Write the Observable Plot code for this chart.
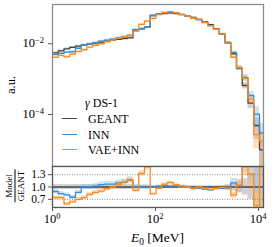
<!DOCTYPE html>
<html><head><meta charset="utf-8">
<script src="https://cdn.jsdelivr.net/npm/d3@7"></script>
<script src="https://cdn.jsdelivr.net/npm/@observablehq/plot@0.6"></script>
<style>
html,body{margin:0;padding:0;background:#fff;}
#wrap{position:relative;width:274px;height:247px;overflow:hidden;font-family:"Liberation Serif","DejaVu Serif","Times New Roman",serif;color:#000;}
#wrap svg{position:absolute;left:0;overflow:hidden;}
.lbl{position:absolute;line-height:1;white-space:nowrap;}
.lbl sup{font-size:0.68em;vertical-align:0;position:relative;top:-0.5em;}
.lbl sub{font-size:0.7em;vertical-align:0;position:relative;top:0.3em;}
.sw{position:absolute;width:15px;height:0;}
</style></head><body><div id="wrap"></div>
<script>
// ---- data ----
const binLogWidth = 0.11165;          // log10 width of each energy bin
const xTicks = [1, 100, 10000];
const xTickExp = ["0", "2", "4"];
const yTicks = [1e-2, 1e-4];
const yTickExp = ["\u22122", "\u22124"];
const ratioTicks = [0.7, 1.0, 1.3];
const seriesNames = ["GEANT", "INN", "VAE+INN"];
const geant = [5.56e-3, 6.34e-3, 7.22e-3, 7.96e-3, 8.61e-3, 9.19e-3, 9.81e-3, 1.047e-2, 1.117e-2, 1.192e-2,
  1.273e-2, 1.341e-2, 1.413e-2, 1.469e-2, 2.49e-2, 2.66e-2, 2.95e-2, 6.32e-2, 6.88e-2, 7.20e-2,
  7.34e-2, 7.20e-2, 6.65e-2, 6.11e-2, 5.55e-2, 4.93e-2, 4.19e-2, 3.47e-2, 2.66e-2, 1.918e-2,
  1.088e-2, 5.21e-3, 2.03e-3, 6.61e-4, 2.09e-4, 4.89e-5, 1.00e-5];
const inn = [4.95e-3, 5.33e-3, 5.85e-3, 5.97e-3, 7.49e-3, 9.19e-3, 9.81e-3, 1.068e-2, 1.184e-2, 1.275e-2,
  1.362e-2, 1.475e-2, 1.583e-2, 1.719e-2, 2.49e-2, 2.66e-2, 2.92e-2, 6.32e-2, 7.02e-2, 7.42e-2,
  7.49e-2, 7.34e-2, 6.78e-2, 6.11e-2, 5.33e-2, 4.78e-2, 3.98e-2, 3.23e-2, 2.55e-2, 1.86e-2,
  1.055e-2, 5.73e-3, 2.07e-3, 1.124e-3, 3.45e-4, 1.027e-4, 3.0e-5];
const vae = [4.11e-3, 4.69e-3, 4.26e-3, 5.09e-3, 6.03e-3, 6.80e-3, 8.04e-3, 9.11e-3, 1.005e-2, 1.144e-2,
  1.273e-2, 1.421e-2, 1.583e-2, 1.719e-2, 2.29e-2, 3.54e-2, 4.40e-2, 5.25e-2, 6.67e-2, 7.70e-2,
  8.15e-2, 7.63e-2, 6.65e-2, 6.11e-2, 5.38e-2, 4.93e-2, 4.06e-2, 3.26e-2, 2.58e-2, 1.90e-2,
  1.066e-2, 4.17e-3, 2.13e-3, 1.058e-3, 2.76e-4, 2.69e-5, 1.8e-5];
const relErr = [0.06, 0.06, 0.06, 0.06, 0.06, 0.06, 0.06, 0.06, 0.06, 0.06,
  0.06, 0.06, 0.06, 0.06, 0.05, 0.05, 0.05, 0.03, 0.03, 0.03,
  0.03, 0.03, 0.03, 0.03, 0.03, 0.03, 0.03, 0.03, 0.03, 0.04,
  0.06, 0.10, 0.14, 0.20, 0.30, 0.60, 0.90];

// ---- styling ----
const colors = {geant: "#444444", inn: "#3a8fd2", vae: "#ff8a1c"};
const bands = {geant: "#9a9a9a", inn: "#8cc0ea", vae: "#ffb36b"};
const W = 274;
const xDomain = [1, 10 ** 4.097];
const yMainDomain = [10 ** -5.471, 10 ** -0.888];
const yRatioDomain = [0.5, 1.5];
const clampTo = (v, dom) => Math.max(dom[0], Math.min(dom[1], v));

const edges = d3.range(geant.length + 1).map(k => Math.min(10 ** (k * binLogWidth), xDomain[1]));
const bins = geant.map((g, i) => ({
  x1: edges[i], x2: edges[i + 1], geant: g, inn: inn[i], vae: vae[i], err: relErr[i],
  rGeant: 1, rInn: inn[i] / g, rVae: vae[i] / g
}));
function stepPts(key, dom) {
  const pts = bins.map(b => ({x: b.x1, y: clampTo(b[key], dom)}));
  pts.push({x: edges[edges.length - 1], y: clampTo(bins[bins.length - 1][key], dom)});
  return pts;
}
const lineOpts = c => ({x: "x", y: "y", curve: "step-after", stroke: c, strokeWidth: 1.3, clip: true});
const bandMain = key => Plot.rect(bins, {x1: "x1", x2: "x2",
  y1: d => clampTo(d[key] * (1 - d.err), yMainDomain), y2: d => clampTo(d[key] * (1 + d.err), yMainDomain),
  fill: bands[key], fillOpacity: 0.45, clip: true});
const bandRatio = (rkey, ckey) => Plot.rect(bins, {x1: "x1", x2: "x2",
  y1: d => clampTo(d[rkey] * (1 - d.err), yRatioDomain), y2: d => clampTo(d[rkey] * (1 + d.err), yRatioDomain),
  fill: bands[ckey], fillOpacity: 0.45, clip: true});
const font = {fontFamily: "'Liberation Serif','DejaVu Serif',serif", fontSize: "11.5px", color: "#000", background: "transparent", overflow: "hidden"};

const main = Plot.plot({
  width: W, height: 167, marginLeft: 52, marginRight: 11, marginTop: 4, marginBottom: 1,
  style: font,
  x: {type: "log", domain: xDomain, axis: null},
  y: {type: "log", domain: yMainDomain},
  marks: [
    bandMain("geant"), bandMain("inn"), bandMain("vae"),
    Plot.line(stepPts("geant", yMainDomain), lineOpts(colors.geant)),
    Plot.line(stepPts("inn", yMainDomain), lineOpts(colors.inn)),
    Plot.line(stepPts("vae", yMainDomain), lineOpts(colors.vae)),
    Plot.axisY({ticks: yTicks, tickSize: 4, tickFormat: () => "", stroke: "#555", label: null}),
    Plot.frame({stroke: "#8c8c8c", strokeWidth: 1.3})
  ]
});
main.style.top = "0px";

const ratio = Plot.plot({
  width: W, height: 82, marginLeft: 52, marginRight: 11, marginTop: 1, marginBottom: 40,
  style: font,
  x: {type: "log", domain: xDomain},
  y: {domain: yRatioDomain},
  marks: [
    bandRatio("rGeant", "geant"), bandRatio("rInn", "inn"), bandRatio("rVae", "vae"),
    Plot.ruleY([ratioTicks[0], ratioTicks[2]], {stroke: "#666", strokeWidth: 0.8, strokeDasharray: "1,1.5"}),
    Plot.ruleY([ratioTicks[1]], {stroke: colors.geant, strokeWidth: 1.4}),
    Plot.line(stepPts("rInn", yRatioDomain), lineOpts(colors.inn)),
    Plot.line(stepPts("rVae", yRatioDomain), lineOpts(colors.vae)),
    Plot.axisX({ticks: xTicks, tickSize: 4, tickFormat: () => "", stroke: "#555", label: null}),
    Plot.axisY({ticks: ratioTicks, tickSize: 4, tickPadding: 3, tickFormat: d3.format(".1f"), stroke: "#555", label: null}),
    Plot.frame({stroke: "#555", strokeWidth: 1.3})
  ]
});
ratio.style.top = "165px";

const wrap = document.getElementById("wrap");
wrap.appendChild(main);
wrap.appendChild(ratio);

function addLbl(html, css) {
  const d = document.createElement("div");
  d.className = "lbl";
  d.innerHTML = html;
  Object.assign(d.style, css);
  wrap.appendChild(d);
  return d;
}
// y tick labels of main panel
const ys = main.scale("y");
yTicks.forEach((v, i) => addLbl(`10<sup>${yTickExp[i]}</sup>`,
  {right: (W - 44) + "px", top: ys.apply(v) + "px", fontSize: "12.5px", transform: "translateY(-50%)"}));
// x tick labels
const xs = ratio.scale("x");
xTicks.forEach((v, i) => addLbl(`10<sup>${xTickExp[i]}</sup>`,
  {left: xs.apply(v) + "px", top: "213px", fontSize: "12.5px", transform: "translateX(-50%)"}));
// axis titles
addLbl(`<i>E</i><sub>0</sub> [MeV]`, {left: "157.5px", top: "238px", fontSize: "13.5px", transform: "translate(-50%,-50%)"});
addLbl(`a.u.`, {left: "11px", top: "85px", fontSize: "12.5px", transform: "translate(-50%,-50%) rotate(-90deg)"});
addLbl(`<div style="text-align:center;padding:0 1px 1px">Model</div><div style="text-align:center;border-top:0.8px solid #000;padding:1px 1px 0">GEANT</div>`,
  {left: "15px", top: "186px", fontSize: "9px", transform: "translate(-50%,-50%) rotate(-90deg)"});
// legend
addLbl(`<i>\u03b3</i> DS-1`, {left: "85px", top: "103px", fontSize: "12px", transform: "translateY(-50%)"});
const legY = [119, 134.5, 150];
const legC = [colors.geant, colors.inn, colors.vae];
seriesNames.forEach((n, i) => {
  const s = document.createElement("div");
  s.className = "sw";
  Object.assign(s.style, {left: "62px", top: (legY[i] - 0.75) + "px", borderTop: `1.5px solid ${legC[i]}`});
  wrap.appendChild(s);
  addLbl(n, {left: "88px", top: legY[i] + "px", fontSize: "12px", transform: "translateY(-50%)"});
});
</script></body></html>
